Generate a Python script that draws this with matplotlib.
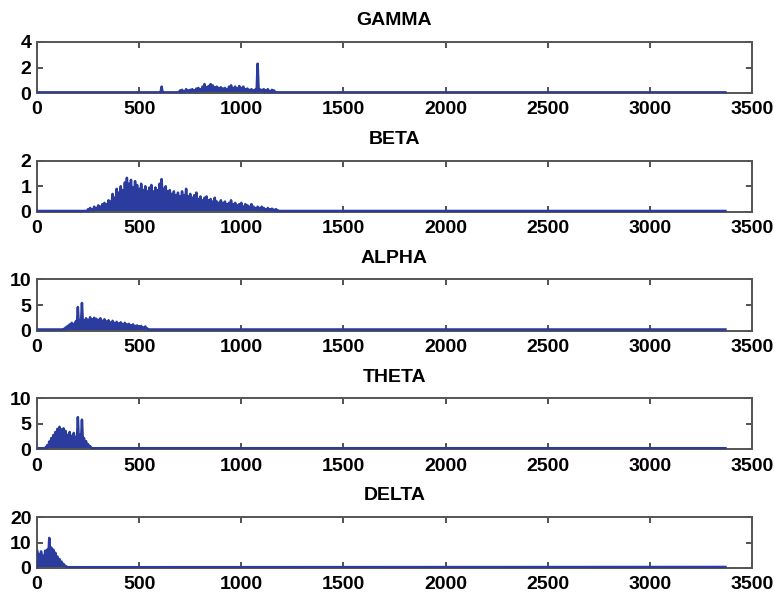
import numpy as np
import matplotlib.pyplot as plt

plt.rcParams["font.family"] = ["Liberation Sans", "DejaVu Sans"]
plt.rcParams["font.size"] = 14
plt.rcParams["font.weight"] = "bold"

bands = ["GAMMA", "BETA", "ALPHA", "THETA", "DELTA"]
ymax = [4, 2, 10, 10, 20]
yticks = [[0, 2, 4], [0, 1, 2], [0, 5, 10], [0, 5, 10], [0, 10, 20]]
xticks = [0, 500, 1000, 1500, 2000, 2500, 3000, 3500]
x_end = 3370
step = 10

# first sample position of the active part of each band
start = [600, 250, 130, 40, 0]
# level of the flat part outside the active region
baseline = [0.05, 0.03, 0.2, 0.2, 0.4]

# local maxima, one every 10 samples
gamma_peak = [0.05, 0.5, 0.05, 0.05, 0.05, 0.05, 0.05, 0.05, 0.05, 0.05,
              0.2, 0.25, 0.15, 0.3, 0.2, 0.25, 0.3, 0.2, 0.35, 0.4,
              0.3, 0.5, 0.7, 0.45, 0.55, 0.7, 0.6, 0.45, 0.5, 0.4,
              0.45, 0.35, 0.4, 0.3, 0.5, 0.6, 0.4, 0.5, 0.35, 0.55,
              0.4, 0.5, 0.3, 0.35, 0.25, 0.3, 0.2, 0.3, 2.3, 0.3,
              0.25, 0.3, 0.2, 0.3, 0.15, 0.25, 0.2, 0.05]
beta_peak = [0.1, 0.15, 0.1, 0.2, 0.15, 0.25, 0.2, 0.3, 0.35, 0.3,
             0.45, 0.4, 0.7, 0.55, 0.9, 0.75, 1.0, 0.85, 1.15, 1.33,
             1.1, 1.25, 0.95, 1.2, 1.05, 0.9, 1.1, 0.85, 1.0, 0.8,
             0.95, 1.05, 0.8, 0.95, 0.85, 1.1, 1.28, 0.9, 1.0, 0.8,
             0.85, 0.7, 0.8, 0.65, 0.75, 0.6, 0.8, 0.65, 0.9, 0.6,
             0.7, 0.55, 0.65, 0.75, 0.5, 0.6, 0.45, 0.55, 0.6, 0.45,
             0.5, 0.4, 0.55, 0.4, 0.35, 0.45, 0.35, 0.4, 0.3, 0.35,
             0.45, 0.3, 0.35, 0.25, 0.3, 0.35, 0.2, 0.3, 0.25, 0.2,
             0.3, 0.2, 0.15, 0.2, 0.15, 0.2, 0.15, 0.1, 0.15, 0.1,
             0.12, 0.08, 0.1, 0.05]
alpha_peak = [0.3, 0.6, 0.9, 1.2, 1.5, 1.3, 1.8, 4.6, 1.9, 5.4,
              2.0, 2.4, 2.1, 2.6, 2.2, 2.5, 2.3, 2.1, 2.4, 1.9,
              2.2, 1.8, 2.0, 1.6, 1.9, 1.5, 1.7, 1.4, 1.6, 1.3,
              1.5, 1.2, 1.3, 1.0, 1.2, 0.9, 1.0, 0.7, 0.9, 0.6,
              0.8, 0.4, 0.2]
theta_peak = [0.3, 0.8, 1.5, 2.2, 2.8, 3.4, 4.0, 4.4, 3.9, 4.1,
              3.6, 2.8, 3.4, 2.6, 3.2, 2.4, 6.3, 2.8, 5.8, 2.2,
              1.6, 1.0, 0.6, 0.2]
delta_peak = [7.0, 5.5, 6.5, 4.8, 6.8, 7.2, 11.8, 8.0, 7.2, 6.0,
              4.5, 3.5, 2.5, 1.6, 0.8, 0.3]

# local minima between the maxima
gamma_low = [0.05] * 10 + [0.1, 0.12, 0.1, 0.15, 0.1, 0.12, 0.15, 0.1, 0.18, 0.2,
                           0.15, 0.25, 0.3, 0.2, 0.25, 0.3, 0.25, 0.2, 0.25, 0.2,
                           0.2, 0.18, 0.2, 0.15, 0.25, 0.25, 0.2, 0.22, 0.18, 0.25,
                           0.2, 0.22, 0.15, 0.15, 0.12, 0.15, 0.1, 0.12, 0.15, 0.12,
                           0.12, 0.12, 0.1, 0.12, 0.08, 0.1, 0.08, 0.05]
beta_low = [0.05, 0.08, 0.05, 0.1, 0.08, 0.12, 0.1, 0.15, 0.18, 0.15,
            0.2, 0.25, 0.3, 0.35, 0.4, 0.45, 0.5, 0.4, 0.55, 0.6,
            0.55, 0.6, 0.5, 0.55, 0.45, 0.5, 0.55, 0.4, 0.5, 0.45,
            0.45, 0.5, 0.4, 0.45, 0.4, 0.5, 0.55, 0.45, 0.4, 0.4,
            0.4, 0.35, 0.4, 0.3, 0.35, 0.3, 0.35, 0.3, 0.35, 0.3,
            0.3, 0.25, 0.3, 0.3, 0.25, 0.25, 0.2, 0.25, 0.25, 0.2,
            0.2, 0.2, 0.22, 0.18, 0.15, 0.2, 0.15, 0.18, 0.12, 0.15,
            0.15, 0.12, 0.15, 0.1, 0.12, 0.12, 0.1, 0.12, 0.1, 0.08,
            0.1, 0.08, 0.07, 0.08, 0.06, 0.08, 0.06, 0.05, 0.06, 0.05,
            0.05, 0.04, 0.04, 0.03]
alpha_low = [0.2, 0.3, 0.5, 0.6, 0.8, 0.8, 1.0, 1.0, 1.1, 1.1,
             1.2, 1.3, 1.2, 1.4, 1.2, 1.3, 1.2, 1.1, 1.2, 1.0,
             1.1, 1.0, 1.0, 0.9, 0.9, 0.8, 0.8, 0.7, 0.8, 0.7,
             0.7, 0.6, 0.6, 0.5, 0.5, 0.4, 0.4, 0.35, 0.35, 0.3,
             0.3, 0.2, 0.2]
theta_low = [0.2, 0.4, 0.8, 1.1, 1.4, 1.7, 2.0, 2.2, 1.9, 2.0,
             1.8, 1.4, 1.7, 1.3, 1.6, 1.2, 1.4, 1.3, 1.2, 1.0,
             0.8, 0.5, 0.3, 0.2]
delta_low = [3.5, 2.5, 3.2, 2.4, 3.4, 3.6, 4.0, 4.0, 3.6, 3.0,
             2.2, 1.8, 1.2, 0.8, 0.5, 0.3]

peaks = [gamma_peak, beta_peak, alpha_peak, theta_peak, delta_peak]
lows = [gamma_low, beta_low, alpha_low, theta_low, delta_low]

color = "#2b3c9e"
fig = plt.figure(figsize=(7.74, 6.01), dpi=100)

for k in range(5):
    top_px = 42 + 118.75 * k
    ax = fig.add_axes([37 / 774, 1 - (top_px + 51) / 601, 715 / 774, 51 / 601])
    pk = np.array(peaks[k])
    lo = np.array(lows[k])
    xp = start[k] + step * np.arange(len(pk))
    # interleave maxima and minima
    x = np.empty(2 * len(pk))
    y = np.empty(2 * len(pk))
    x[0::2] = xp
    x[1::2] = xp + step / 2
    y[0::2] = pk
    y[1::2] = lo
    # flat stretch before and after the active part
    x = np.concatenate([[0, max(xp[0] - step / 2, 0)], x, [x_end]])
    y = np.concatenate([[baseline[k], baseline[k]], y, [baseline[k]]])
    ax.fill_between(x, 0, y, color=color, lw=0, zorder=2)
    ax.plot(x, y, color=color, lw=1.8, zorder=3, solid_joinstyle="round")

    ax.set_xlim(0, 3500)
    ax.set_ylim(0, ymax[k])
    ax.set_xticks(xticks)
    ax.set_yticks(yticks[k])
    ax.tick_params(direction="in", top=True, right=True, length=4, width=1.2,
                   color="#333333", labelsize=14)
    ax.tick_params(axis="x", pad=6)
    ax.tick_params(axis="y", pad=4)
    for s in ax.spines.values():
        s.set_color("#555555")
        s.set_linewidth(1.4)
    ax.set_title(bands[k], fontsize=14, fontweight="bold", pad=12)

fig.savefig("out.png", dpi=100)
